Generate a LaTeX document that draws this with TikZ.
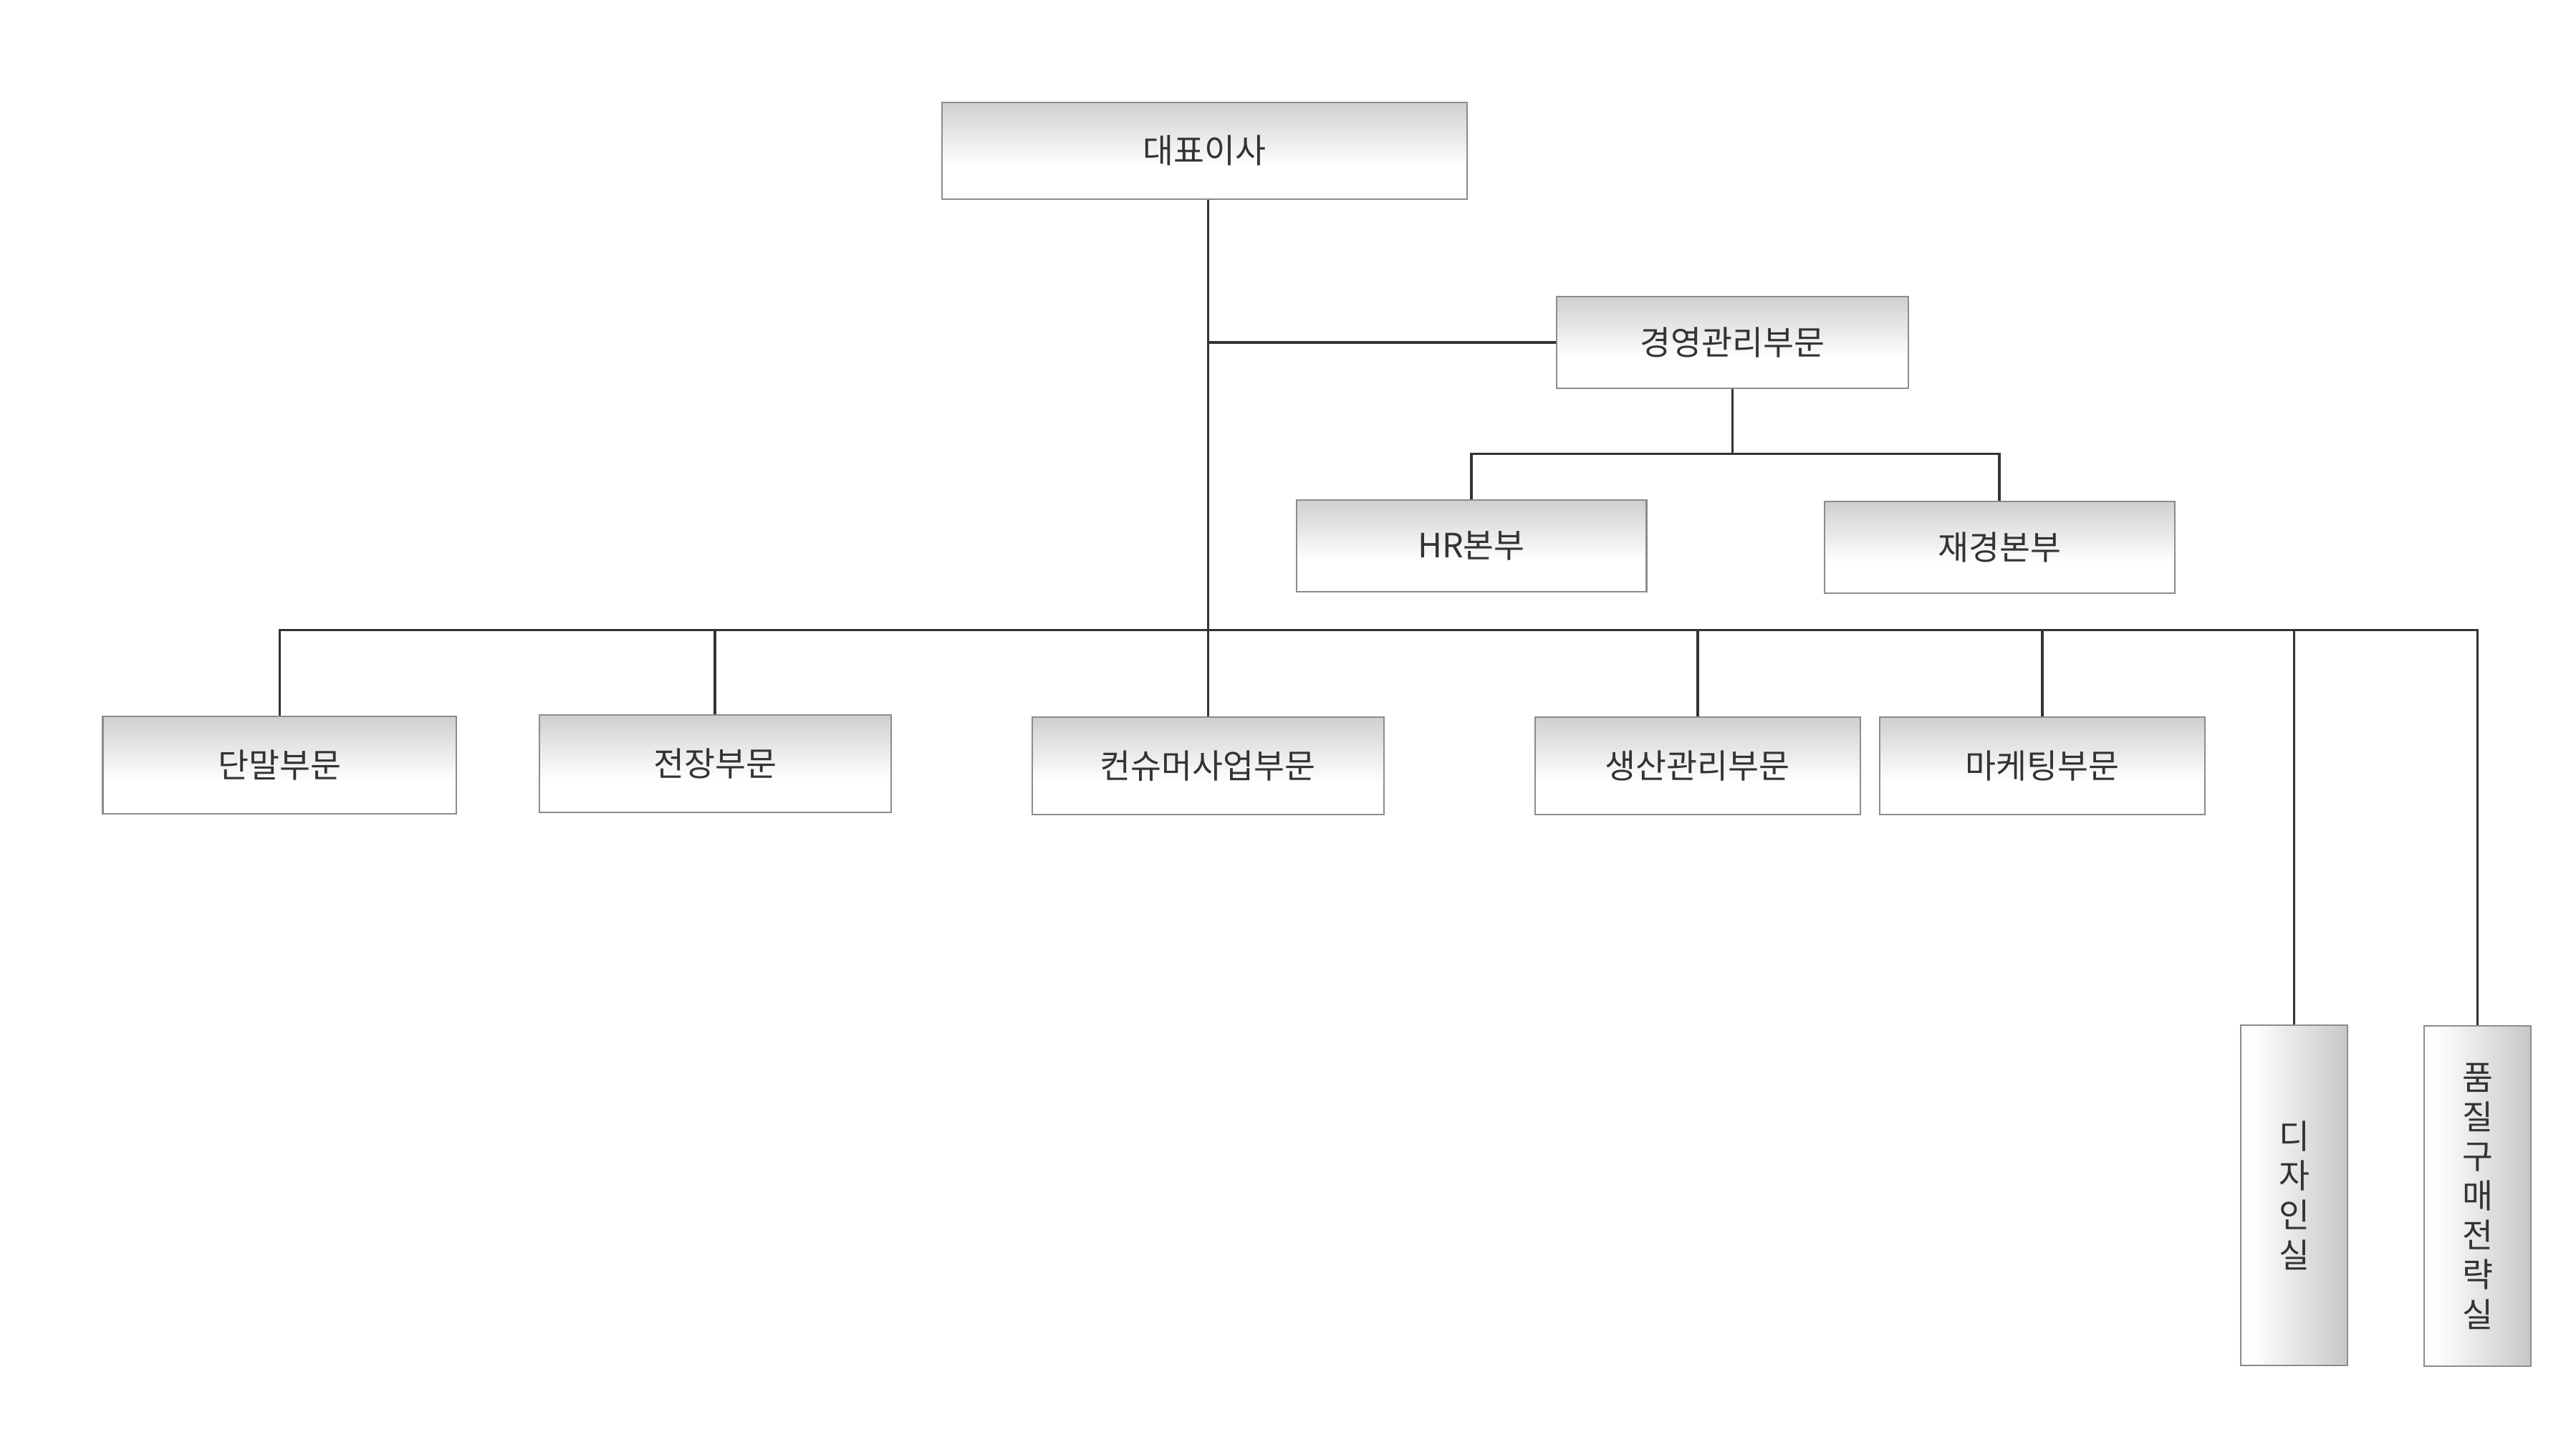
\documentclass[tikz,border=0pt]{standalone}
\usepackage{fontspec}
\setmainfont{Noto Sans CJK KR}
\usepackage{xcolor}

\pgfdeclareverticalshading{boxshade}{100bp}{color(0bp)=(white); color(42bp)=(white); color(100bp)=(black!33)}
\pgfdeclarehorizontalshading{sideshade}{100bp}{color(0bp)=(black!6); color(30bp)=(white); color(100bp)=(black!34)}

\begin{document}
\begin{tikzpicture}[x=0.00996cm, y=-0.00996cm,
        unit/.style={draw=black!45, line width=0.6pt, shading=boxshade, text=black!80, inner sep=0pt, font=\fontsize{13.3}{15.7}\selectfont},
        dept/.style={unit, minimum width=4.91cm, minimum height=1.36cm},
        sub/.style={unit, minimum width=4.89cm, minimum height=1.28cm},
        room/.style={unit, shading=sideshade, minimum width=1.49cm, minimum height=4.75cm, align=center},
        link/.style={black!80, line width=1pt}]
        \useasboundingbox (0,0) rectangle (3610,2038);
        %top
        \node[unit, minimum width=7.34cm, minimum height=1.35cm] (ceo) at (1688,211) {대표이사};
        \node[unit, minimum width=4.91cm, minimum height=1.28cm] (mgmt) at (2428,480) {경영관리부문};
        \node[sub] (hr) at (2062,765) {HR본부};
        \node[sub] (fin) at (2802,767) {재경본부};
        %row of departments
        \node[dept, minimum width=4.94cm] (dan) at (392,1072) {단말부문};
        \node[dept] (jeon) at (1002,1070) {전장부문};
        \node[dept] (cons) at (1693,1073) {컨슈머사업부문};
        \node[dept, minimum width=4.54cm] (prod) at (2379,1073) {생산관리부문};
        \node[dept, minimum width=4.54cm] (mkt) at (2862,1073) {마케팅부문};
        \node[room] (design) at (3215,1675) {디\\자\\인\\실};
        \node[room] (qual) at (3472,1676) {품\\질\\구\\매\\전\\략\\실};
        \coordinate (sbus) at (0,636);
        \coordinate (bus) at (0,883);
        %lines
        \draw[link] (cons.north |- ceo.south) -- (cons.north);
        \draw[link] (cons.north |- mgmt.west) -- (mgmt.west);
        \draw[link] (mgmt.south) -- (mgmt.south |- sbus);
        \draw[link] (hr.north) -- (hr.north |- sbus) -- (fin.north |- sbus) -- (fin.north);
        \draw[link] (dan.north) -- (dan.north |- bus) -- (qual.north |- bus) -- (qual.north);
        \foreach \n in {jeon,prod,mkt,design} {
            \draw[link] (\n.north) -- (\n.north |- bus);
        }
    \end{tikzpicture}
\end{document}
